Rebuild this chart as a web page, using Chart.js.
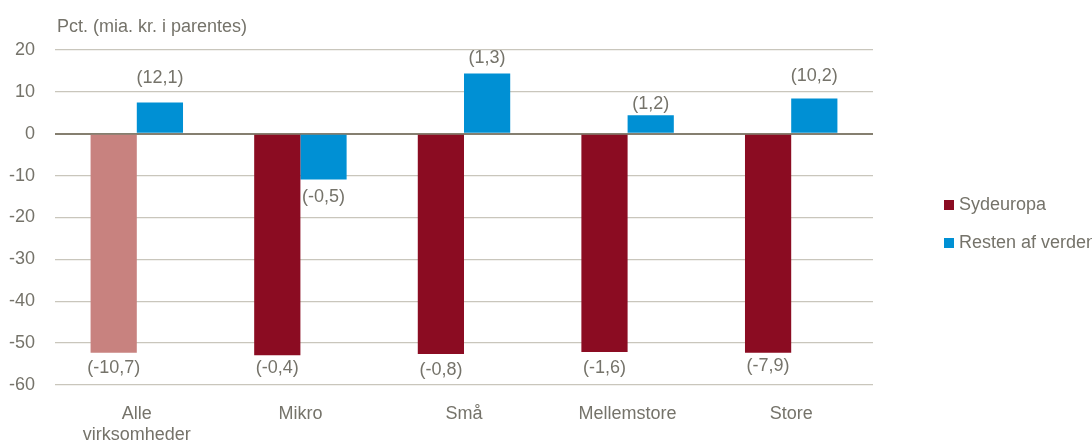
<!DOCTYPE html>
<html>
<head>
<meta charset="utf-8">
<script src="https://cdn.jsdelivr.net/npm/chart.js@4.4.1/dist/chart.umd.min.js"></script>
<style>
  html, body { margin: 0; padding: 0; background: #fff; }
  #wrap { position: relative; width: 1092px; height: 442px; }
  #legend { position: absolute; left: 944px; top: 194px; font: 18px "Liberation Sans Narrow", "Arial Narrow", "Liberation Sans", sans-serif; color: #75736a; white-space: nowrap; }
  #legend div { height: 38px; display: flex; align-items: flex-start; }
  #legend span { display: inline-block; width: 10px; height: 10px; margin: 6px 5px 0 0; }
</style>
</head>
<body>
<div id="wrap">
  <canvas id="chart" width="1092" height="442"></canvas>
  <div id="legend"></div>
</div>
<script>
const categories = [["Alle", "virksomheder"], "Mikro", "Små", "Mellemstore", "Store"];
const sydeuropa = [-52.3, -52.9, -52.6, -52.1, -52.3];
const restenAfVerden = [7.45, -10.9, 14.4, 4.4, 8.4];
const sydeuropaLabels = ["(-10,7)", "(-0,4)", "(-0,8)", "(-1,6)", "(-7,9)"];
const restenLabels = ["(12,1)", "(-0,5)", "(1,3)", "(1,2)", "(10,2)"];
const yTicks = [20, 10, 0, -10, -20, -30, -40, -50, -60];

// distance from bar end to label centre (labels were placed by hand in the original)
const sydLabelGap = [15, 13, 16, 16, 13];
const restenLabelGap = [25, 18, 15, 11, 23];

const FONT = '"Liberation Sans Narrow", "Arial Narrow", "Liberation Sans", sans-serif';
const TEXT = "#75736a";
const RED = "#8b0c22";
const RED_LIGHT = "#c8827f";
const BLUE = "#0090d4";

const valueLabels = {
  id: "valueLabels",
  afterDatasetsDraw(chart) {
    const ctx = chart.ctx;
    const texts = [sydeuropaLabels, restenLabels];
    const gaps = [sydLabelGap, restenLabelGap];
    ctx.save();
    ctx.font = "18px " + FONT;
    ctx.fillStyle = TEXT;
    ctx.textAlign = "center";
    ctx.textBaseline = "middle";
    chart.data.datasets.forEach((ds, i) => {
      chart.getDatasetMeta(i).data.forEach((bar, j) => {
        const dir = ds.data[j] >= 0 ? -1 : 1;
        ctx.fillText(texts[i][j], bar.x, bar.y + dir * gaps[i][j]);
      });
    });
    // axis title
    ctx.textAlign = "left";
    ctx.textBaseline = "alphabetic";
    ctx.fillText("Pct. (mia. kr. i parentes)", 57, 32);
    ctx.restore();
  }
};

const chart = new Chart(document.getElementById("chart"), {
  type: "bar",
  data: {
    labels: categories,
    datasets: [
      {
        label: "Sydeuropa",
        data: sydeuropa,
        backgroundColor: sydeuropa.map((v, i) => (i === 0 ? RED_LIGHT : RED)),
        categoryPercentage: 0.565,
        barPercentage: 1.0,
      },
      {
        label: "Resten af verden",
        data: restenAfVerden,
        backgroundColor: BLUE,
        categoryPercentage: 0.565,
        barPercentage: 1.0,
      },
    ],
  },
  options: {
    responsive: false,
    animation: false,
    layout: { padding: { left: 0, right: 219, top: 50, bottom: 0 } },
    plugins: {
      legend: { display: false },
      tooltip: { enabled: false },
    },
    scales: {
      x: {
        grid: { display: false },
        border: { display: false },
        ticks: { color: TEXT, font: { family: FONT, size: 18 }, padding: 10, maxRotation: 0 },
        afterFit: (s) => { s.height = 57; },
      },
      y: {
        min: -60,
        max: 20,
        afterBuildTicks: (s) => { s.ticks = yTicks.map((v) => ({ value: v })); },
        border: { display: false },
        grid: {
          color: (c) => (c.tick && c.tick.value === 0 ? "#857f70" : "#c9c6bc"),
          lineWidth: (c) => (c.tick && c.tick.value === 0 ? 2 : 1.3),
          drawTicks: false,
        },
        ticks: { color: TEXT, font: { family: FONT, size: 18 }, padding: 20 },
        afterFit: (s) => { s.width = 55; },
      },
    },
  },
  plugins: [valueLabels],
});

// legend
const legendEl = document.getElementById("legend");
chart.data.datasets.forEach((ds, i) => {
  const row = document.createElement("div");
  const sw = document.createElement("span");
  sw.style.background = i === 0 ? RED : BLUE;
  row.appendChild(sw);
  row.appendChild(document.createTextNode(ds.label));
  legendEl.appendChild(row);
});
</script>
</body>
</html>
